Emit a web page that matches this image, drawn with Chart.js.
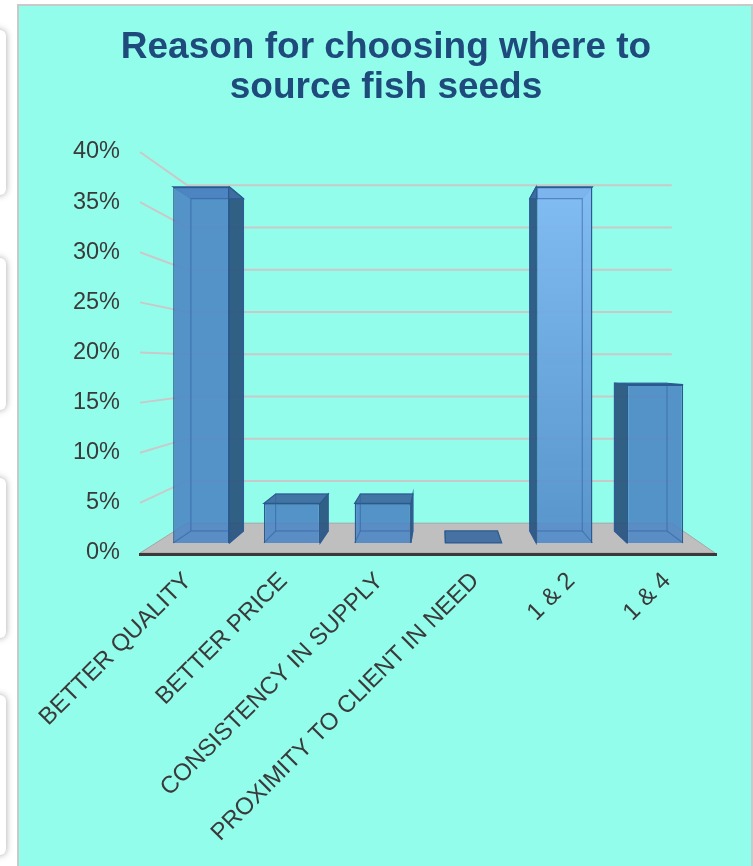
<!DOCTYPE html>
<html>
<head>
<meta charset="utf-8">
<script src="https://cdn.jsdelivr.net/npm/chart.js@4.4.1/dist/chart.umd.min.js"></script>
<style>
html,body{margin:0;padding:0;background:#fff;}
#wrap{position:relative;width:753px;height:866px;overflow:hidden;}
#panel{position:absolute;left:17px;top:4px;width:732px;height:880px;background:#93FDEB;border:2px solid #C9C9C9;}
.thumb{position:absolute;left:-14px;width:20px;background:#fff;border-radius:6px;box-shadow:0 0 7px rgba(0,0,0,.35);}
#chart{position:absolute;left:0;top:0;}
</style>
</head>
<body>
<div id="wrap">
  <div class="thumb" style="top:30px;height:165px"></div>
  <div class="thumb" style="top:258px;height:152px"></div>
  <div class="thumb" style="top:478px;height:160px"></div>
  <div class="thumb" style="top:695px;height:160px"></div>
  <div id="panel"></div>
  <canvas id="chart" width="753" height="866"></canvas>
</div>
<script>
// ── data ──
const TITLE_LINES = ['Reason for choosing where to', 'source fish seeds'];
const CATEGORIES = ['BETTER QUALITY', 'BETTER PRICE', 'CONSISTENCY IN SUPPLY', 'PROXIMITY TO CLIENT IN NEED', '1 & 2', '1 & 4'];
const SHARES = [37.5, 4.17, 4.17, 0, 37.5, 16.67];
const Y_TICKS = [0, 5, 10, 15, 20, 25, 30, 35, 40];

// ── 3D look ──
const VP = { x: 440, y: 363 };   // vanishing point
const WALL = 0.843;              // depth of back wall
const BAR_FRONT = 0.947;         // depth of bar front faces
const BAR_BACK = 0.884;          // depth of bar back faces

const FACE = 'rgba(78,135,196,0.9)';
const SIDE = 'rgba(40,82,124,0.92)';
const TOP = 'rgba(62,110,160,0.95)';
const EDGE = '#2B5A8E';
const FONT = '"Liberation Sans", Arial, sans-serif';

function toDepth(x, y, s){ return [VP.x + s*(x - VP.x), VP.y + s*(y - VP.y)]; }

function barBox(bar, s){
  const {x, y, base, width} = bar.getProps(['x','y','base','width'], true);
  const [x0, top] = toDepth(x - width/2, y, s);
  const [x1, bot] = toDepth(x + width/2, base, s);
  return {x0, x1, top, bot, cx: x};
}

function quad(ctx, pts, fill, stroke){
  ctx.beginPath();
  ctx.moveTo(pts[0][0], pts[0][1]);
  for(let i=1;i<pts.length;i++) ctx.lineTo(pts[i][0], pts[i][1]);
  ctx.closePath();
  if(fill){ ctx.fillStyle = fill; ctx.fill(); }
  if(stroke){ ctx.strokeStyle = stroke; ctx.stroke(); }
}

const bar3d = {
  id: 'bar3d',
  beforeDatasetsDraw(chart){
    const {ctx, chartArea: a, scales: {y}} = chart;
    ctx.save();

    // back wall grid + slanted links to the front axis
    ctx.strokeStyle = '#C9C9C9';
    ctx.lineWidth = 2;
    Y_TICKS.forEach(v => {
      if(v === 0) return;
      const yf = y.getPixelForValue(v);
      const [xl, yb] = toDepth(a.left, yf, WALL);
      const [xr] = toDepth(a.right, yf, WALL);
      ctx.beginPath(); ctx.moveTo(a.left, yf); ctx.lineTo(xl, yb); ctx.lineTo(xr, yb); ctx.stroke();
    });

    // floor
    const [bl, bb] = toDepth(a.left, a.bottom, WALL);
    const [br] = toDepth(a.right, a.bottom, WALL);
    ctx.lineWidth = 1;
    quad(ctx, [[a.left, a.bottom], [bl, bb], [br, bb], [a.right, a.bottom]], '#BFBFBF', '#A5A5A5');
    ctx.fillStyle = '#3A3A3A';
    ctx.fillRect(a.left - 1, a.bottom, a.right - a.left + 3, 3);

    // side and top faces behind the front faces
    ctx.lineWidth = 1.2;
    chart.getDatasetMeta(0).data.forEach(bar => {
      const f = barBox(bar, BAR_FRONT), b = barBox(bar, BAR_BACK);
      const k = f.cx < VP.x ? 'x1' : 'x0';
      quad(ctx, [[f[k], f.top], [b[k], b.top], [b[k], b.bot], [f[k], f.bot]], SIDE, EDGE);
      quad(ctx, [[f.x0, f.top], [f.x1, f.top], [b.x1, b.top], [b.x0, b.top]], TOP, EDGE);
    });
    ctx.restore();

    // front faces are drawn by Chart.js, pushed back to their depth
    ctx.save();
    ctx.translate(VP.x, VP.y);
    ctx.scale(BAR_FRONT, BAR_FRONT);
    ctx.translate(-VP.x, -VP.y);
  },
  afterDatasetsDraw(chart){
    const {ctx} = chart;
    ctx.restore();
    // back edges seen through the glassy bars
    ctx.save();
    ctx.lineWidth = 1.2;
    ctx.strokeStyle = 'rgba(50,95,160,0.55)';
    chart.getDatasetMeta(0).data.forEach(bar => {
      const f = barBox(bar, BAR_FRONT), b = barBox(bar, BAR_BACK);
      if(f.bot - f.top < 1) return;
      ctx.strokeRect(b.x0, b.top, b.x1 - b.x0, b.bot - b.top);
      ctx.beginPath();
      ctx.moveTo(f.x0, f.bot); ctx.lineTo(b.x0, b.bot);
      ctx.moveTo(f.x1, f.bot); ctx.lineTo(b.x1, b.bot);
      ctx.stroke();
    });
    ctx.restore();
  }
};

function faceColor(c){
  if(c.type !== 'data') return FACE;
  if(c.dataIndex !== 4) return FACE;
  const {chartArea: a, scales: {y}} = c.chart;
  if(!a) return FACE;
  const g = c.chart.ctx.createLinearGradient(0, y.getPixelForValue(SHARES[4]), 0, a.bottom);
  g.addColorStop(0, 'rgba(128,185,243,0.95)');
  g.addColorStop(1, 'rgba(82,140,200,0.92)');
  return g;
}

new Chart(document.getElementById('chart'), {
  type: 'bar',
  data: {
    labels: CATEGORIES,
    datasets: [{
      data: SHARES,
      backgroundColor: faceColor,
      borderColor: EDGE,
      borderWidth: 1.5,
      barPercentage: 0.62,
      categoryPercentage: 1
    }]
  },
  options: {
    responsive: false,
    animation: false,
    events: [],
    layout: { padding: { left: 57, right: 38, top: 0, bottom: 0 } },
    plugins: {
      legend: { display: false },
      tooltip: { enabled: false },
      title: {
        display: true,
        text: TITLE_LINES,
        color: '#1F4A7C',
        font: { family: FONT, size: 37, weight: 'bold', lineHeight: 1.1 },
        padding: { top: 27, bottom: 43.6 }
      }
    },
    scales: {
      x: {
        grid: { display: false, drawTicks: false },
        border: { display: false },
        ticks: {
          color: '#3A3A3A',
          font: { family: FONT, size: 24 },
          minRotation: 45, maxRotation: 45, padding: 14, autoSkip: false
        },
        afterFit: s => { s.height = 866 - 553; }
      },
      y: {
        min: 0, max: 40,
        grid: { display: false, drawTicks: false },
        border: { display: false },
        ticks: {
          stepSize: 5,
          color: '#3A3A3A',
          padding: 20,
          font: { family: FONT, size: 23.5 },
          callback: v => v + '%'
        },
        afterFit: s => { s.width = 83; }
      }
    }
  },
  plugins: [bar3d]
});
</script>
</body>
</html>
